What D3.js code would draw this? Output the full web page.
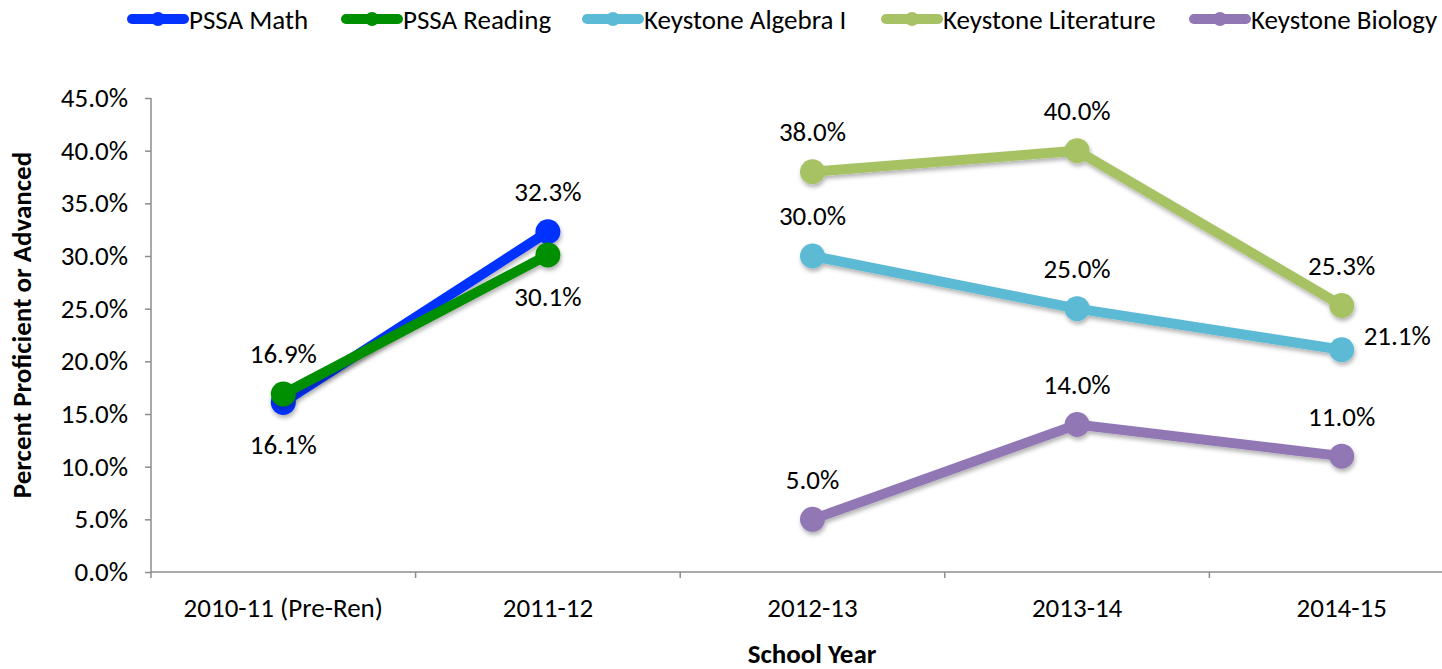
<html>
<head>
<script src="https://cdn.jsdelivr.net/npm/d3@7"></script>
<style>
  body { margin: 0; background: #fff; }
  text { font-family: Carlito, Lato, "Open Sans", sans-serif; fill: #000; }
</style>
</head>
<body>
<svg id="chart" width="1442" height="669"></svg>
<script>

// data
const years = ["2010-11 (Pre-Ren)", "2011-12", "2012-13", "2013-14", "2014-15"];
const seriesNames = ["PSSA Math", "PSSA Reading", "Keystone Algebra I", "Keystone Literature", "Keystone Biology"];
const pssaMath = [16.1, 32.3, null, null, null];
const pssaReading = [16.9, 30.1, null, null, null];
const algebra = [null, null, 30.0, 25.0, 21.1];
const literature = [null, null, 38.0, 40.0, 25.3];
const biology = [null, null, 5.0, 14.0, 11.0];
const yTicks = [0, 5, 10, 15, 20, 25, 30, 35, 40, 45];

// where each value label sits relative to its point
const labelPlace = [
    ["below", "above", null, null, null],
    ["above", "below", null, null, null],
    [null, null, "above", "above", "right"],
    [null, null, "above", "above", "above"],
    [null, null, "above", "above", "above"]
];

const colors = ["#0433ff", "#008f00", "#5bbad5", "#a6c264", "#9178b4"];
const allSeries = [pssaMath, pssaReading, algebra, literature, biology];

const fs = "27px";

const svg = d3.select("#chart");
const margin = { top: 98, left: 151, right: 1474, bottom: 572 };

const x = d3.scaleBand()
    .domain(years)
    .range([margin.left, margin.right]);

const y = d3.scaleLinear()
    .domain([0, 45])
    .range([margin.bottom, margin.top]);

// drop shadow for lines and markers
const defs = svg.append("defs");
const f = defs.append("filter").attr("id", "shadow")
    .attr("x", "-20%").attr("y", "-20%").attr("width", "140%").attr("height", "140%");
f.append("feDropShadow")
    .attr("dx", 1).attr("dy", 3).attr("stdDeviation", 2)
    .attr("flood-color", "#000").attr("flood-opacity", 0.3);

// y axis
const yAxis = svg.append("g")
    .attr("transform", `translate(${margin.left},0)`)
    .call(d3.axisLeft(y).tickValues(yTicks).tickSize(6).tickPadding(17)
        .tickFormat(d => d.toFixed(1) + "%"));
yAxis.selectAll("text").style("font-size", fs);

// x axis
const xAxis = svg.append("g")
    .attr("transform", `translate(0,${margin.bottom})`)
    .call(d3.axisBottom(x).tickSize(0).tickPadding(26));
xAxis.selectAll("text").style("font-size", fs);
xAxis.selectAll(".tick line").remove();

// x ticks at band edges
const edges = years.map(d => x(d)).concat([x.range()[1]]);
xAxis.selectAll(".edge")
    .data(edges)
    .enter()
    .append("line")
    .attr("class", "edge")
    .attr("x1", d => d).attr("x2", d => d)
    .attr("y1", 0).attr("y2", 6);

svg.selectAll(".domain, .tick line, .edge")
    .attr("stroke", "#8c8c8c")
    .attr("stroke-width", 1.5);
// plain axis lines without end caps
yAxis.select(".domain").attr("d", `M0,${margin.top}V${margin.bottom}`);
xAxis.select(".domain").attr("d", `M${margin.left},0H${margin.right}`);

// axis titles
svg.append("text")
    .attr("transform", "translate(22,325) rotate(-90)")
    .attr("dy", "0.35em")
    .attr("text-anchor", "middle")
    .style("font-size", fs)
    .style("font-weight", "bold")
    .text("Percent Proficient or Advanced");

svg.append("text")
    .attr("x", 812).attr("y", 654)
    .attr("dy", "0.35em")
    .attr("text-anchor", "middle")
    .style("font-size", fs)
    .style("font-weight", "bold")
    .text("School Year");

// series
const cx = i => x(years[i]) + x.bandwidth() / 2;
const line = d3.line()
    .defined(d => d.v !== null)
    .x(d => cx(d.i))
    .y(d => y(d.v));

allSeries.forEach((vals, s) => {
    const pts = vals.map((v, i) => ({ v: v, i: i }));
    const g = svg.append("g").attr("filter", "url(#shadow)");
    g.append("path")
        .datum(pts)
        .attr("d", line)
        .attr("fill", "none")
        .attr("stroke", colors[s])
        .attr("stroke-width", 10);
    g.selectAll("circle")
        .data(pts.filter(d => d.v !== null))
        .enter()
        .append("circle")
        .attr("cx", d => cx(d.i))
        .attr("cy", d => y(d.v))
        .attr("r", 12.5)
        .attr("fill", colors[s]);
});

// value labels
allSeries.forEach((vals, s) => {
    vals.forEach((v, i) => {
        if (v === null) return;
        const p = labelPlace[s][i];
        let tx = cx(i), ty = y(v), anchor = "middle";
        if (p === "above") ty -= 40;
        else if (p === "below") ty += 42;
        else if (p === "right") { tx += 22; ty -= 14; anchor = "start"; }
        svg.append("text")
            .attr("x", tx).attr("y", ty)
            .attr("dy", "0.35em")
            .attr("text-anchor", anchor)
            .style("font-size", fs)
            .text(v.toFixed(1) + "%");
    });
});

// legend
const legendX = [128, 342, 583, 882, 1190];
const legend = svg.selectAll(".legend")
    .data(seriesNames)
    .enter()
    .append("g")
    .attr("class", "legend")
    .attr("transform", (d, i) => `translate(${legendX[i]},19)`);
legend.append("line")
    .attr("x1", 4).attr("x2", 56)
    .attr("stroke", (d, i) => colors[i])
    .attr("stroke-width", 10)
    .attr("stroke-linecap", "round");
legend.append("circle")
    .attr("cx", 30).attr("r", 7)
    .attr("fill", (d, i) => colors[i]);
legend.append("text")
    .attr("x", 61).attr("y", 1)
    .attr("dy", "0.35em")
    .style("font-size", fs)
    .text(d => d);

</script>
</body>
</html>
